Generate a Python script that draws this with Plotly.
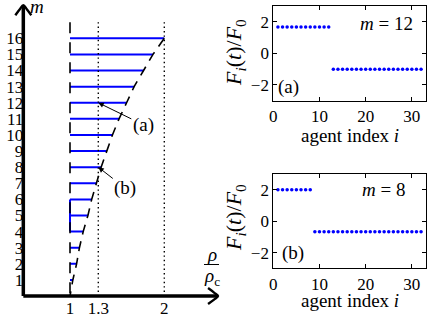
import plotly.graph_objects as go

W, H = 436, 315
def px(x):
    return x / W
def py(y):
    return 1 - y / H

FONT = "Liberation Serif"

# ---------------- left panel data ----------------
m_levels = [1, 2, 3, 4, 5, 6, 7, 8, 9, 10, 11, 12, 13, 14, 15, 16]
rho_start = 1.0
rho_max = [1.03, 1.07, 1.10, 1.14, 1.19, 1.23, 1.28, 1.33,
           1.39, 1.45, 1.52, 1.60, 1.68, 1.78, 1.88, 2.00]
boundary_rho = [1.0] + rho_max
boundary_m = [0] + m_levels
ref_rho = [1.3, 2.0]
m_bottom, m_top = 0, 17
blue_link_m = [4, 6]
rho_ticks = [1, 1.3, 2]
rho_ticktext = ["1", "1.3", "2"]
annot_m = {"(a)": 12, "(b)": 8}

# ---------------- right panel data ----------------
agent_index = list(range(1, 33))
force_a = [1.67, 1.67, 1.67, 1.67, 1.67, 1.67, 1.67, 1.67, 1.67, 1.67, 1.67, 1.67,
           -1.0, -1.0, -1.0, -1.0, -1.0, -1.0, -1.0, -1.0, -1.0, -1.0,
           -1.0, -1.0, -1.0, -1.0, -1.0, -1.0, -1.0, -1.0, -1.0, -1.0]
force_b = [2.0, 2.0, 2.0, 2.0, 2.0, 2.0, 2.0, 2.0,
           -0.67, -0.67, -0.67, -0.67, -0.67, -0.67, -0.67, -0.67,
           -0.67, -0.67, -0.67, -0.67, -0.67, -0.67, -0.67, -0.67,
           -0.67, -0.67, -0.67, -0.67, -0.67, -0.67, -0.67, -0.67]

BLUE = "#0000ff"

# left panel geometry: pixel(rho) = 70 + (rho-1)*94.3 ; pixel(m) = 38.3 + (16-m)*16.11
XL = [0.4, 2.62]
YL = [-0.6, 18.3]
def lpx(r):
    return 70 + (r - 1) * 94.3
def lpy(m):
    return 38.3 + (16 - m) * 16.11
RPX, MPX = 94.3, 16.11   # pixels per data unit
AX_X0, AX_Y0 = 0.505, 0.0
AX_XEND, AX_YEND = 2.57, 18.05

fig = go.Figure()

# blue horizontal lines
bx, by = [], []
for m, r in zip(m_levels, rho_max):
    bx += [rho_start, r, None]
    by += [m, m, None]
fig.add_trace(go.Scatter(x=bx, y=by, mode="lines", line=dict(color=BLUE, width=2),
                         xaxis="x", yaxis="y", hoverinfo="skip"))
fig.add_trace(go.Scatter(x=[rho_start, rho_start], y=blue_link_m, mode="lines",
                         line=dict(color=BLUE, width=2), xaxis="x", yaxis="y"))

# dotted reference lines
for r in ref_rho:
    fig.add_trace(go.Scatter(x=[r, r], y=[m_top, m_bottom], mode="lines",
                             line=dict(color="black", width=1.4, dash="1.4px,3px"),
                             xaxis="x", yaxis="y"))
# dashed vertical at rho = 1
fig.add_trace(go.Scatter(x=[rho_start, rho_start], y=[m_top, m_bottom], mode="lines",
                         line=dict(color="black", width=1.6, dash="11px,9px"),
                         xaxis="x", yaxis="y"))
# dashed boundary curve
fig.add_trace(go.Scatter(x=boundary_rho[::-1], y=boundary_m[::-1], mode="lines",
                         line=dict(color="black", width=1.6, dash="10px,7px"),
                         xaxis="x", yaxis="y"))

# axis lines with arrow heads (left panel)
axis_line = dict(color="black", width=3.5)
fig.add_trace(go.Scatter(x=[AX_X0, AX_XEND - 0.01], y=[AX_Y0, AX_Y0], mode="lines",
                         line=axis_line, xaxis="x", yaxis="y"))
fig.add_trace(go.Scatter(x=[AX_X0, AX_X0], y=[AX_Y0, AX_YEND - 0.05], mode="lines",
                         line=axis_line, xaxis="x", yaxis="y"))
head = dict(color="black", width=2.4)
fig.add_trace(go.Scatter(
    x=[AX_XEND - 10 / RPX, AX_XEND - 4 / RPX, AX_XEND, AX_XEND - 4 / RPX, AX_XEND - 10 / RPX],
    y=[AX_Y0 + 8 / MPX, AX_Y0 + 3.5 / MPX, AX_Y0, AX_Y0 - 3.5 / MPX, AX_Y0 - 8 / MPX],
    mode="lines", line=dict(shape="spline", **head), xaxis="x", yaxis="y"))
fig.add_trace(go.Scatter(
    x=[AX_X0 - 8 / RPX, AX_X0 - 3.5 / RPX, AX_X0, AX_X0 + 3.5 / RPX, AX_X0 + 8 / RPX],
    y=[AX_YEND - 10 / MPX, AX_YEND - 4 / MPX, AX_YEND, AX_YEND - 4 / MPX, AX_YEND - 10 / MPX],
    mode="lines", line=dict(shape="spline", **head), xaxis="x", yaxis="y"))

# right panels
fig.add_trace(go.Scatter(x=agent_index, y=force_a, mode="markers",
                         marker=dict(color=BLUE, size=3.5), xaxis="x2", yaxis="y2"))
fig.add_trace(go.Scatter(x=agent_index, y=force_b, mode="markers",
                         marker=dict(color=BLUE, size=3.5), xaxis="x3", yaxis="y3"))

tickfont = dict(family=FONT, size=17, color="black")

right_axis_common = dict(showline=True, linecolor="black", linewidth=1, mirror="ticks",
                         ticks="inside", ticklen=4, tickcolor="black", showgrid=False,
                         zeroline=False, tickfont=tickfont, automargin=False)

fig.update_layout(
    width=W, height=H, margin=dict(l=0, r=0, t=0, b=0, autoexpand=False),
    paper_bgcolor="white", plot_bgcolor="rgba(0,0,0,0)", showlegend=False,
    xaxis=dict(domain=[px(lpx(XL[0])), px(lpx(XL[1]))], range=XL, anchor="free",
               position=py(lpy(0)), showline=False, showgrid=False, zeroline=False,
               ticks="", tickvals=rho_ticks, ticktext=rho_ticktext, tickfont=tickfont,
               automargin=False),
    yaxis=dict(domain=[py(lpy(YL[0])), py(lpy(YL[1]))], range=YL, anchor="free",
               position=px(lpx(0.505)), showline=False, showgrid=False, zeroline=False,
               ticks="", tickvals=m_levels, tickfont=tickfont, automargin=False),
    xaxis2=dict(domain=[px(273.3), px(425.7)], range=[0, 33], anchor="y2",
                tickvals=[0, 10, 20, 30], **right_axis_common),
    yaxis2=dict(domain=[py(100.7), py(6)], range=[-3, 3], anchor="x2",
                tickvals=[-2, 0, 2], **right_axis_common),
    xaxis3=dict(domain=[px(273.3), px(425.7)], range=[0, 33], anchor="y3",
                tickvals=[0, 10, 20, 30], **right_axis_common),
    yaxis3=dict(domain=[py(268.3), py(174)], range=[-3, 3], anchor="x3",
                tickvals=[-2, 0, 2], **right_axis_common),
)

fig.update_layout(shapes=[dict(type="line", xref="paper", yref="paper",
                               x0=px(204), x1=px(219), y0=py(264.5), y1=py(264.5),
                               line=dict(color="black", width=1))])

lab = dict(family=FONT, size=19, color="black")
flab = dict(family=FONT, size=22, color="black")
annotations = [
    dict(xref="paper", yref="paper", x=px(37), y=py(6), text="<i>m</i>", showarrow=False,
         font=lab, xanchor="center", yanchor="middle"),
    dict(xref="paper", yref="paper", x=px(211.5), y=py(254), text="<i>ρ</i>", showarrow=False,
         font=lab, xanchor="center", yanchor="middle"),
    dict(xref="paper", yref="paper", x=px(211.5), y=py(277), text="<i>ρ</i><sub>c</sub>",
         showarrow=False, font=lab, xanchor="center", yanchor="middle"),
    dict(xref="paper", yref="paper", x=px(235), y=py(53), textangle=-90,
         text="<i>F<sub>i</sub></i>(<i>t</i>)/<i>F</i><sub>0</sub>", showarrow=False,
         font=flab, xanchor="center", yanchor="middle"),
    dict(xref="paper", yref="paper", x=px(235), y=py(218), textangle=-90,
         text="<i>F<sub>i</sub></i>(<i>t</i>)/<i>F</i><sub>0</sub>", showarrow=False,
         font=flab, xanchor="center", yanchor="middle"),
    dict(xref="paper", yref="paper", x=px(350), y=py(135), text="agent index <i>i</i>",
         showarrow=False, font=lab, xanchor="center", yanchor="middle"),
    dict(xref="paper", yref="paper", x=px(350), y=py(300), text="agent index <i>i</i>",
         showarrow=False, font=lab, xanchor="center", yanchor="middle"),
    dict(xref="paper", yref="paper", x=px(386), y=py(23.5), text="<i>m</i> = 12",
         showarrow=False, font=lab, xanchor="center", yanchor="middle"),
    dict(xref="paper", yref="paper", x=px(288), y=py(87), text="(a)",
         showarrow=False, font=lab, xanchor="center", yanchor="middle"),
    dict(xref="paper", yref="paper", x=px(383), y=py(189.5), text="<i>m</i> = 8",
         showarrow=False, font=lab, xanchor="center", yanchor="middle"),
    dict(xref="paper", yref="paper", x=px(293), y=py(253), text="(b)",
         showarrow=False, font=lab, xanchor="center", yanchor="middle"),
]
offsets = {"(a)": (45, 22), "(b)": (27, 21)}
for txt, m in annot_m.items():
    ax, ay = offsets[txt]
    annotations.append(dict(xref="x", yref="y", x=ref_rho[0], y=m, text=txt,
                            showarrow=True, arrowhead=2, arrowsize=1.1, arrowwidth=1,
                            arrowcolor="black", ax=ax, ay=ay, font=lab))
fig.update_layout(annotations=annotations)

fig.write_html("out.html", config={"displayModeBar": False},
               post_script="document.body.style.margin='0';document.body.style.padding='0';")
